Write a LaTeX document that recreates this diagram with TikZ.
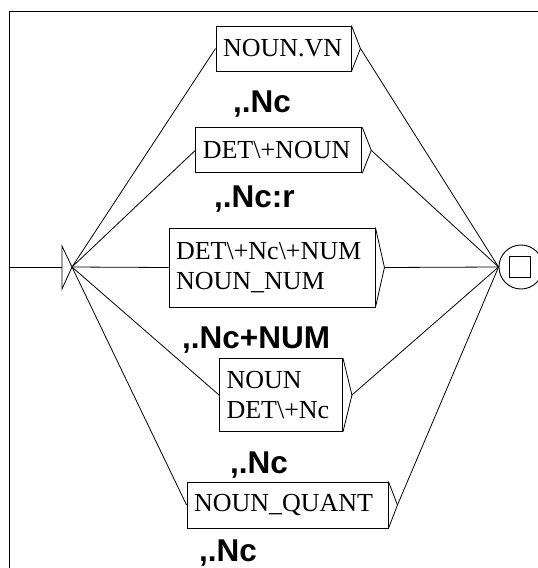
\documentclass[tikz,border=0pt]{standalone}
\usepackage{fontspec}
\setmainfont{Liberation Serif}
\newfontfamily\lblfont{Liberation Sans}
\usetikzlibrary{calc}
\tikzset{
  boxnode/.style={draw, line width=0.9pt, rectangle, inner ysep=0pt, inner xsep=7pt,
    font=\fontsize{26}{30}\selectfont, align=left},
  lbl/.style={font=\lblfont\bfseries\fontsize{31.5}{32}\selectfont, inner sep=0pt, anchor=base west},
  wire/.style={line width=0.8pt},
}
\begin{document}
\begin{tikzpicture}[x=1pt,y=-1pt]
\useasboundingbox (0,0) rectangle (538,568);
\clip (0,0) rectangle (538,568);
% frame
\draw[line width=1pt] (9,580) -- (9,11) -- (560,11);
% initial state
\coordinate (fl) at (9,267);
\coordinate (initl) at (62,267);
\coordinate (init) at (72,267);
\draw[wire] (62,246) -- (init) -- (62,289) -- cycle;
\draw[wire] (fl) -- (initl);
% final state
\node[draw, circle, line width=0.9pt, minimum size=44pt, inner sep=0pt] (fin) at (521,267) {};
\node[draw, rectangle, line width=0.9pt, minimum size=21pt, inner sep=0pt] (finsq) at (519.5,267) {};
% boxes
\node[boxnode, text width=121pt, minimum height=45pt] (b1) at (283.5,48.5) {NOUN.VN};
\node[boxnode, text width=152pt, minimum height=45pt] (b2) at (278.8,150.3) {DET\textbackslash+NOUN};
\node[boxnode, text width=192pt, minimum height=79pt] (b3) at (272,267.5) {DET\textbackslash+Nc\textbackslash+NUM\\NOUN\_NUM};
\node[boxnode, text width=109pt, minimum height=73pt] (b4) at (281,395) {NOUN\\DET\textbackslash+Nc};
\node[boxnode, text width=187pt, minimum height=46pt] (b5) at (287.5,505) {NOUN\_QUANT};
% output arrows on boxes
\foreach \b in {b1,b2,b3,b4,b5}{
  \draw[wire] (\b.north east) -- ($(\b.east)+(9,0)$) coordinate (\b o) -- (\b.south east);
}
% connectors
\foreach \b in {b1,b2,b3,b4,b5}{
  \draw[wire] (init) -- (\b.west);
  \draw[wire] (\b o) -- (fin.west);
}
% labels
\node[lbl] (l1) at (233,112) {,.Nc};
\node[lbl] (l2) at (214,207) {,.Nc:r};
\node[lbl] (l3) at (182,348) {,.Nc+NUM};
\node[lbl] (l4) at (230,473) {,.Nc};
\node[lbl] (l5) at (199,561) {,.Nc};
\end{tikzpicture}
\end{document}
